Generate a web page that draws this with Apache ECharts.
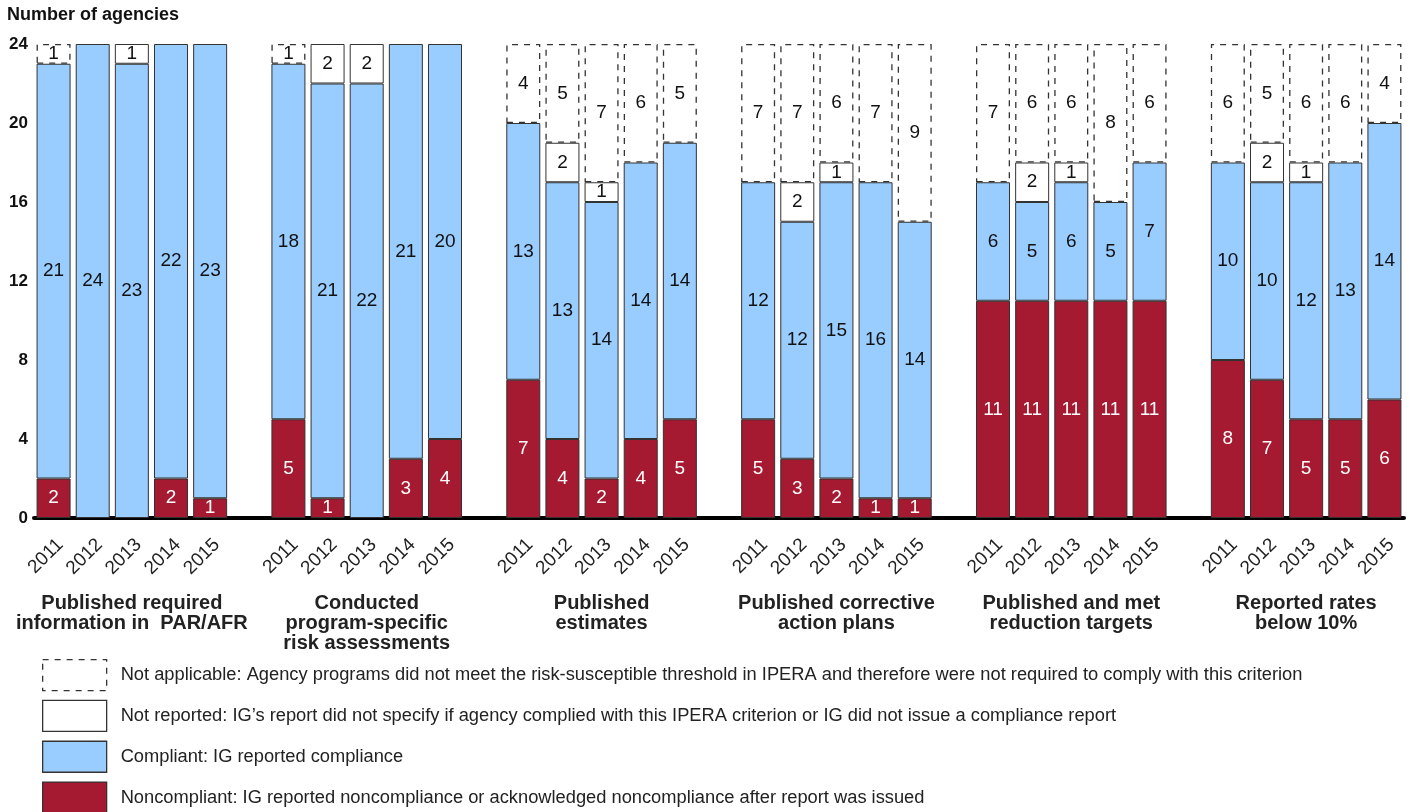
<!DOCTYPE html>
<html>
<head>
<meta charset="utf-8">
<script src="https://cdn.jsdelivr.net/npm/echarts@6/dist/echarts.min.js"></script>
<style>
html,body{margin:0;padding:0;background:#fff;}
#chart{width:1410px;height:812px;}
</style>
</head>
<body>
<div id="chart"></div>
<script>
const years = ['2011','2012','2013','2014','2015'];
const groups = [
  'Published required\ninformation in  PAR/AFR',
  'Conducted\nprogram-specific\nrisk assessments',
  'Published\nestimates',
  'Published corrective\naction plans',
  'Published and met\nreduction targets',
  'Reported rates\nbelow 10%'
];
// values per bar, group by group, years 2011..2015
const noncompliant = [2,0,0,2,1,  5,1,0,3,4,  7,4,2,4,5,  5,3,2,1,1,  11,11,11,11,11,  8,7,5,5,6];
const compliant    = [21,24,23,22,23,  18,21,22,21,20,  13,13,14,14,14,  12,12,15,16,14,  6,5,6,5,7,  10,10,12,13,14];
const notReported  = [0,0,1,0,0,  0,2,2,0,0,  0,2,1,0,0,  0,2,1,0,0,  0,2,1,0,0,  0,2,1,0,0];
const notApplicable= [1,0,0,0,0,  1,0,0,0,0,  4,5,7,6,5,  7,7,6,7,9,  7,6,6,8,6,  6,5,6,6,4];
const yTicks = [0,4,8,12,16,20,24];

const legendText = {
  'Not applicable': 'Not applicable: Agency programs did not meet the risk-susceptible threshold in IPERA and therefore were not required to comply with this criterion',
  'Not reported': 'Not reported: IG\u2019s report did not specify if agency complied with this IPERA criterion or IG did not issue a compliance report',
  'Compliant': 'Compliant: IG reported compliance',
  'Noncompliant': 'Noncompliant: IG reported noncompliance or acknowledged noncompliance after report was issued'
};

// build slots: 5 bars per group + 1 empty slot between groups
const slots = [];
const slotYear = [];
const slotGroup = [];
const slotIndex = [];
groups.forEach((g, gi) => {
  years.forEach((y, yi) => {
    slots.push('g' + gi + '-' + y);
    slotYear.push(y);
    slotGroup.push(yi === 2 ? g : '');
    slotIndex.push(gi * 5 + yi);
  });
  if (gi < groups.length - 1) {
    slots.push('gap' + gi);
    slotYear.push('');
    slotGroup.push('');
    slotIndex.push(-1);
  }
});
function toSlots(arr) {
  return slotIndex.map(i => (i < 0 || !arr[i]) ? '-' : arr[i]);
}

const FONT = '"Liberation Sans", Arial, sans-serif';
const border = '#333';
const dash = [6, 6];
function labelCfg(color) {
  return { show: true, position: 'inside', fontSize: 19, fontFamily: FONT, color: color };
}

const chart = echarts.init(document.getElementById('chart'), null, {renderer: 'canvas'});
chart.setOption({
  animation: false,
  textStyle: { fontFamily: FONT },
  title: {
    text: 'Number of agencies', left: 7, top: 6, padding: 0,
    textStyle: { fontSize: 18, fontWeight: 'bold', color: '#111', fontFamily: FONT }
  },
  grid: { left: 34, right: 6, top: 44, bottom: 294, containLabel: false },
  legend: {
    orient: 'vertical', left: 42, top: 659, height: 300, padding: 0,
    itemWidth: 64, itemHeight: 31, itemGap: 8.5,
    icon: 'rect',
    data: [
      { name: 'Not applicable', itemStyle: { color: '#fff', borderColor: '#333', borderWidth: 1.3, borderType: dash } },
      { name: 'Not reported', itemStyle: { color: '#fff', borderColor: border, borderWidth: 1.3 } },
      { name: 'Compliant', itemStyle: { color: '#99CCFF', borderColor: border, borderWidth: 1.3 } },
      { name: 'Noncompliant', itemStyle: { color: '#A51931', borderColor: border, borderWidth: 1.3 } }
    ],
    formatter: name => legendText[name],
    textStyle: { fontSize: 18.3, color: '#222', fontFamily: FONT, padding: [0, 0, 0, 9] },
    selectedMode: false
  },
  xAxis: [
    {
      type: 'category', data: slots,
      axisLine: { show: true, lineStyle: { color: '#000', width: 4 } },
      axisTick: { show: false },
      axisLabel: {
        interval: 0, rotate: 45, margin: 17, fontSize: 19, color: '#222', fontFamily: FONT,
        verticalAlign: 'top',
        formatter: (v, i) => slotYear[i]
      }
    },
    {
      type: 'category', data: slots, position: 'bottom',
      axisLine: { show: false }, axisTick: { show: false },
      axisLabel: {
        interval: 0, margin: 75, fontSize: 20, fontWeight: 'bold', lineHeight: 20,
        color: '#222', fontFamily: FONT, verticalAlign: 'top',
        formatter: (v, i) => slotGroup[i]
      }
    }
  ],
  yAxis: {
    type: 'value', min: 0, max: 24, interval: 4,
    axisLine: { show: false }, axisTick: { show: false }, splitLine: { show: false },
    axisLabel: {
      margin: 6, fontSize: 17, fontWeight: 'bold', color: '#111', fontFamily: FONT,
      formatter: v => yTicks.includes(v) ? String(v) : ''
    }
  },
  series: [
    {
      name: 'Noncompliant', type: 'bar', stack: 'all', barWidth: 34,
      data: toSlots(noncompliant),
      itemStyle: { color: '#A51931', borderColor: border, borderWidth: 1 },
      label: labelCfg('#fff')
    },
    {
      name: 'Compliant', type: 'bar', stack: 'all', barWidth: 34,
      data: toSlots(compliant),
      itemStyle: { color: '#99CCFF', borderColor: border, borderWidth: 1 },
      label: labelCfg('#111')
    },
    {
      name: 'Not reported', type: 'bar', stack: 'all', barWidth: 34,
      data: toSlots(notReported),
      itemStyle: { color: '#fff', borderColor: border, borderWidth: 1 },
      label: labelCfg('#111')
    },
    {
      name: 'Not applicable', type: 'bar', stack: 'all', barWidth: 34,
      data: toSlots(notApplicable),
      itemStyle: { color: 'rgba(255,255,255,0)', borderColor: '#333', borderWidth: 1.3, borderType: dash },
      label: labelCfg('#111')
    }
  ]
});
</script>
</body>
</html>
